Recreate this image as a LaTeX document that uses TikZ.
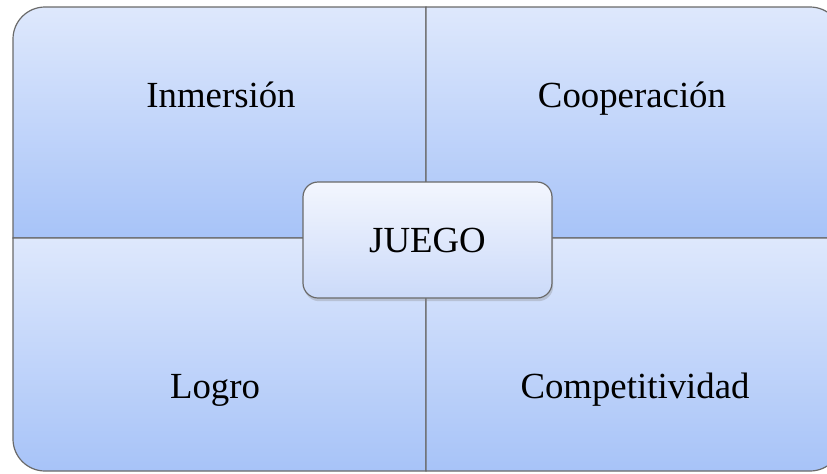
\documentclass[tikz,border=0pt]{standalone}
\usepackage{fontspec}
\setmainfont{Liberation Serif}
\usepackage{tikz}
\usetikzlibrary{shadows}
\definecolor{quadtop}{HTML}{DEE8FC}
\definecolor{quadbot}{HTML}{A7C3F8}
\definecolor{coretop}{HTML}{F3F6FE}
\definecolor{corebot}{HTML}{CBDAF9}
\definecolor{edgegray}{HTML}{6A6A6A}
\tikzstyle{quad} = [draw=edgegray, line width=0.6pt, top color=quadtop, bottom color=quadbot]
\tikzstyle{label} = [font=\fontsize{18.4}{22}\selectfont, anchor=base, inner sep=0pt]
\tikzstyle{core} = [rectangle, draw=edgegray, line width=0.6pt, rounded corners=7.5pt,
    minimum width=124.5pt, minimum height=58pt, top color=coretop, bottom color=corebot,
    font=\fontsize{18.4}{22}\selectfont,
    drop shadow={opacity=0.3, shadow xshift=0.6pt, shadow yshift=-1.6pt}]

\begin{document}
\begin{tikzpicture}[x=0.5pt,y=-0.5pt]
    \useasboundingbox (0,0) rectangle (827,473);
    \clip (0,0) rectangle (827,473);

    % four quarters of the matrix
    \draw[quad] (426,238) -- (13,238) -- (13,39) arc[start angle=180, end angle=270, radius=32] -- (426,7) -- cycle;
    \draw[quad] (426,238) -- (426,7) -- (810,7) arc[start angle=270, end angle=360, radius=32] -- (842,238) -- cycle;
    \draw[quad] (426,238) -- (13,238) -- (13,439) arc[start angle=180, end angle=90, radius=32] -- (426,471) -- cycle;
    \draw[quad] (426,238) -- (426,471) -- (810,471) arc[start angle=90, end angle=0, radius=32] -- (842,238) -- cycle;

    \node[label] (inmersion) at (221,107) {Inmersión};
    \node[label] (cooperacion) at (632,107) {Cooperación};
    \node[label] (logro) at (215,398) {Logro};
    \node[label] (competitividad) at (635,398) {Competitividad};

    \node[core] (juego) at (427.5,240) {JUEGO};
\end{tikzpicture}
\end{document}
